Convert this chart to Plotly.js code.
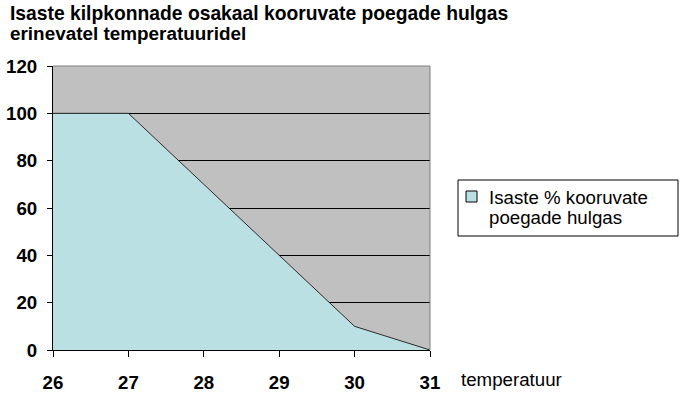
<!DOCTYPE html>
<html><head><meta charset="utf-8">
<script src="https://cdn.plot.ly/plotly-3.0.1.min.js"></script>
<style>body{margin:0;padding:0;background:#fff}</style>
</head><body>
<div id="chart" style="width:696px;height:405px"></div>
<script>
var temperatures = [26, 27, 28, 29, 30, 31];
var percentInShell = [100, 100, 70, 40, 10, 0];
var yTicks = [0, 20, 40, 60, 80, 100, 120];
var titleLines = ['Isaste kilpkonnade osakaal kooruvate poegade hulgas', 'erinevatel temperatuuridel'];
var legendLines = ['Isaste % kooruvate', 'poegade hulgas'];
var xLabel = 'temperatuur';

var font = 'Arial, "Liberation Sans", sans-serif';
var FS = 18.7;
var fillColor = '#BBE0E3';
var L = 53, R = 430, T = 66, B = 350;
function px(x) { return (x - L) / (R - L); }
function py(y) { return (B - y) / (B - T); }

var trace = {
  x: temperatures, y: percentInShell, type: 'scatter', mode: 'lines',
  fill: 'tozeroy', fillcolor: fillColor,
  line: {color: '#000000', width: 0.8},
  name: legendLines.join(' '), showlegend: false, hoverinfo: 'x+y'
};
var layout = {
  width: 696, height: 405,
  margin: {l: L, r: 696 - R, t: T, b: 405 - B, pad: 0},
  paper_bgcolor: '#ffffff', plot_bgcolor: '#C0C0C0',
  font: {family: font, size: FS, color: '#000'},
  title: {text: titleLines[0], x: 10/696, xanchor: 'left', xref: 'container',
          y: 1 - 13/405, yanchor: 'middle', yref: 'container',
          font: {family: font, size: 19.3, weight: 'bold', color: '#000'}},
  xaxis: {range: [26, 31], tickvals: temperatures, ticktext: temperatures.map(String),
          showgrid: false, zeroline: false, showline: true, linecolor: '#000', linewidth: 1,
          ticks: 'outside', ticklen: 6, tickcolor: '#000', ticklabelstandoff: 10,
          tickfont: {family: font, size: FS, weight: 'bold', color: '#000'}},
  yaxis: {range: [0, 120], tickvals: yTicks, ticktext: yTicks.map(String),
          showgrid: true, gridcolor: '#000', gridwidth: 1, zeroline: false,
          showline: true, linecolor: '#000', linewidth: 1,
          ticks: 'outside', ticklen: 5, tickcolor: '#000', ticklabelstandoff: 6,
          tickfont: {family: font, size: FS, weight: 'bold', color: '#000'}},
  showlegend: false,
  shapes: [
    {type: 'line', xref: 'paper', yref: 'paper', x0: 0, x1: 1, y0: 1, y1: 1, line: {color: '#808080', width: 1}},
    {type: 'line', xref: 'paper', yref: 'paper', x0: 1, x1: 1, y0: 0, y1: 1, line: {color: '#808080', width: 1}},
    {type: 'rect', xref: 'paper', yref: 'paper', x0: px(458), x1: px(678), y0: py(180), y1: py(236),
     line: {color: '#000', width: 1}, fillcolor: '#fff'},
    {type: 'rect', xref: 'paper', yref: 'paper', x0: px(466), x1: px(477), y0: py(191), y1: py(202),
     line: {color: '#000', width: 1}, fillcolor: fillColor}
  ],
  annotations: [
    {text: titleLines[1], xref: 'paper', yref: 'paper', x: px(8), xanchor: 'left',
     y: py(33), yanchor: 'middle', showarrow: false,
     font: {family: font, size: 18.9, weight: 'bold', color: '#000'}},
    {text: xLabel, xref: 'paper', yref: 'paper', x: px(459), xanchor: 'left',
     y: py(379), yanchor: 'middle', showarrow: false,
     font: {family: font, size: FS, color: '#000'}},
    {text: legendLines[0], xref: 'paper', yref: 'paper', x: px(487), xanchor: 'left',
     y: py(197), yanchor: 'middle', showarrow: false,
     font: {family: font, size: FS, color: '#000'}},
    {text: legendLines[1], xref: 'paper', yref: 'paper', x: px(487), xanchor: 'left',
     y: py(217), yanchor: 'middle', showarrow: false,
     font: {family: font, size: FS, color: '#000'}}
  ]
};
Plotly.newPlot('chart', [trace], layout, {displayModeBar: false, staticPlot: true});
</script>
</body></html>
